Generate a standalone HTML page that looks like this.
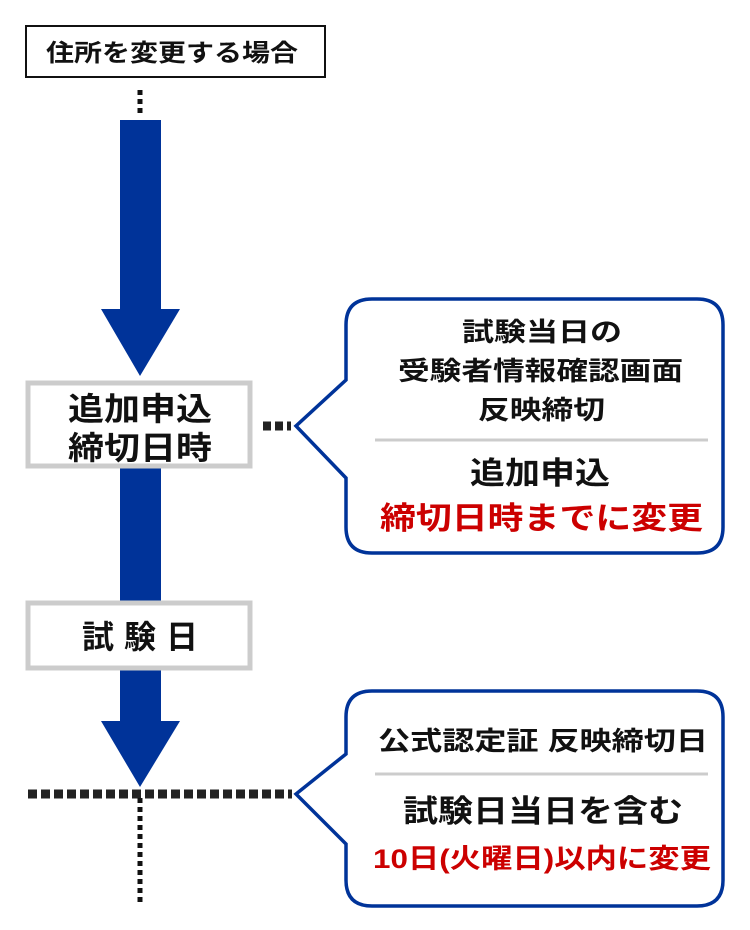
<!DOCTYPE html>
<html><head><meta charset="utf-8"><style>
body{margin:0;background:#fff}
svg text{font-family:"Liberation Sans","Noto Sans CJK JP",sans-serif;font-weight:bold}
</style></head><body>
<svg width="750" height="925" viewBox="0 0 750 925" xmlns="http://www.w3.org/2000/svg">
<rect x="26" y="26" width="299" height="51" fill="#fff" stroke="#111" stroke-width="2"/>
<text x="46" y="61" font-size="24" fill="#111" textLength="252" lengthAdjust="spacingAndGlyphs">住所を変更する場合</text>
<line x1="140" y1="90" x2="140" y2="117" stroke="#111" stroke-width="5" stroke-dasharray="5,4"/>
<rect x="120" y="120" width="41" height="190" fill="#003399"/>
<polygon points="101,309 180,309 140,376" fill="#003399"/>
<rect x="120" y="466" width="41" height="136" fill="#003399"/>
<rect x="120" y="668" width="41" height="60" fill="#003399"/>
<polygon points="101,721 180,721 140,787" fill="#003399"/>
<rect x="28" y="383" width="222" height="83" fill="#fff" stroke="#ccc" stroke-width="5"/>
<text x="68" y="420" font-size="32" fill="#111" textLength="144" lengthAdjust="spacingAndGlyphs">追加申込</text>
<text x="68" y="459" font-size="32" fill="#111" textLength="144" lengthAdjust="spacingAndGlyphs">締切日時</text>
<rect x="28" y="603" width="222" height="65" fill="#fff" stroke="#ccc" stroke-width="5"/>
<text x="82" y="648" font-size="32" fill="#111" textLength="116" lengthAdjust="spacing">試験日</text>
<line x1="263" y1="426" x2="291" y2="426" stroke="#222" stroke-width="9" stroke-dasharray="8,4"/>
<line x1="28" y1="794" x2="292" y2="794" stroke="#222" stroke-width="9" stroke-dasharray="9,4"/>
<line x1="140" y1="798" x2="140" y2="905" stroke="#111" stroke-width="5" stroke-dasharray="5,4"/>
<path d="M372,299 H697 Q723,299 723,325 V527 Q723,553 697,553 H372 Q346,553 346,527 V478 L296,426 L346,380 V325 Q346,299 372,299 Z" fill="#fff" stroke="#003399" stroke-width="3.5"/>
<text x="462" y="341" font-size="26" fill="#111" textLength="160" lengthAdjust="spacingAndGlyphs">試験当日の</text>
<text x="398" y="380" font-size="26" fill="#111" textLength="285" lengthAdjust="spacingAndGlyphs">受験者情報確認画面</text>
<text x="478" y="419" font-size="26" fill="#111" textLength="127" lengthAdjust="spacingAndGlyphs">反映締切</text>
<line x1="375" y1="440" x2="708" y2="440" stroke="#ccc" stroke-width="3"/>
<text x="470" y="484" font-size="31" fill="#111" textLength="140" lengthAdjust="spacingAndGlyphs">追加申込</text>
<text x="380" y="529" font-size="31" fill="#cc0000" textLength="323" lengthAdjust="spacingAndGlyphs">締切日時までに変更</text>
<path d="M372,691 H697 Q723,691 723,717 V880 Q723,906 697,906 H372 Q346,906 346,880 V844 L296,794 L346,754 V717 Q346,691 372,691 Z" fill="#fff" stroke="#003399" stroke-width="3.5"/>
<text x="378" y="750" font-size="26" fill="#111" textLength="330" lengthAdjust="spacingAndGlyphs">公式認定証 反映締切日</text>
<line x1="375" y1="774" x2="708" y2="774" stroke="#ccc" stroke-width="3"/>
<text x="403" y="822" font-size="31" fill="#111" textLength="280" lengthAdjust="spacingAndGlyphs">試験日当日を含む</text>
<text x="373" y="868" font-size="27" fill="#cc0000" textLength="338" lengthAdjust="spacingAndGlyphs">10日(火曜日)以内に変更</text>
</svg>
</body></html>
